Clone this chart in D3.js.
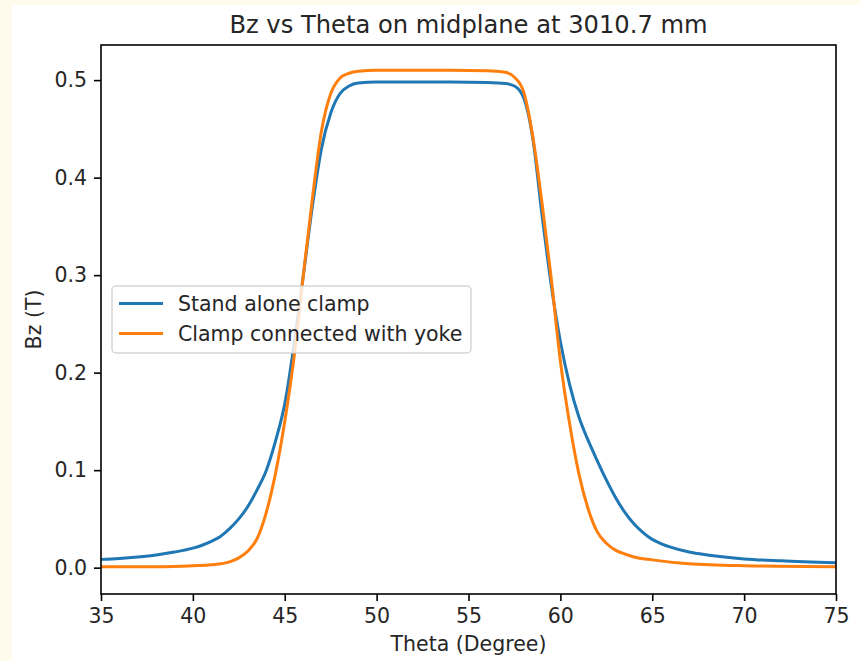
<!DOCTYPE html>
<html>
<head>
<meta charset="utf-8">
<script src="https://cdn.jsdelivr.net/npm/d3@7"></script>
<style>
  html, body { margin: 0; padding: 0; background: #fefaec; }
  svg { display: block; }
  text { font-family: "DejaVu Sans", sans-serif; fill: #262626; }
</style>
</head>
<body>
<div id="chart"></div>
<script>
// data
var theta_blue = [35, 36, 37, 38, 39, 40, 40.5, 41, 41.5, 42, 42.5, 43, 43.5, 44, 44.5, 45, 45.5, 46, 46.5, 47, 47.5, 48, 48.5, 49, 50, 52, 54, 56, 57, 57.5, 58, 58.5, 59, 59.5, 60, 60.5, 61, 61.5, 62, 62.5, 63, 63.5, 64, 64.5, 65, 65.5, 66, 67, 68, 70, 72, 75];
var bz_blue = [0.0085, 0.0095, 0.011, 0.013, 0.016, 0.020, 0.023, 0.027, 0.032, 0.040, 0.050, 0.063, 0.080, 0.100, 0.130, 0.168, 0.228, 0.298, 0.370, 0.430, 0.466, 0.486, 0.494, 0.497, 0.498, 0.498, 0.498, 0.4975, 0.4965, 0.494, 0.482, 0.440, 0.362, 0.290, 0.232, 0.188, 0.155, 0.131, 0.110, 0.090, 0.072, 0.057, 0.045, 0.036, 0.029, 0.0245, 0.021, 0.016, 0.013, 0.009, 0.007, 0.005];

var theta_orange = [35, 38, 40, 41, 42, 42.5, 43, 43.5, 44, 44.5, 45, 45.5, 46, 46.5, 47, 47.5, 48, 48.5, 49, 50, 54, 56, 57, 57.5, 58, 58.5, 59, 59.5, 60, 60.5, 61, 61.5, 62, 62.5, 63, 63.5, 64, 65, 67, 70, 75];
var bz_orange = [0.001, 0.001, 0.002, 0.003, 0.006, 0.010, 0.017, 0.030, 0.057, 0.097, 0.150, 0.215, 0.298, 0.378, 0.448, 0.486, 0.502, 0.507, 0.509, 0.510, 0.510, 0.5095, 0.508, 0.503, 0.488, 0.442, 0.374, 0.297, 0.212, 0.148, 0.097, 0.061, 0.037, 0.025, 0.018, 0.014, 0.011, 0.008, 0.004, 0.002, 0.001];

var series_names = ["Stand alone clamp", "Clamp connected with yoke"];
var x_ticks = [35, 40, 45, 50, 55, 60, 65, 70, 75];
var y_ticks = [0.0, 0.1, 0.2, 0.3, 0.4, 0.5];

var W = 860, H = 661;
var margin = {top: 45, right: 24, bottom: 67, left: 101},
    width = W - margin.left - margin.right,
    height = H - margin.top - margin.bottom;

var colors = ["#1f77b4", "#ff7f0e"];

var svg = d3.select("#chart").append("svg")
    .attr("width", W)
    .attr("height", H);

// white panel on the cream page
svg.append("rect")
    .attr("x", 12).attr("y", 5)
    .attr("width", W - 12).attr("height", H - 5)
    .attr("fill", "#ffffff");

var g = svg.append("g")
    .attr("transform", "translate(" + margin.left + "," + margin.top + ")");

var x = d3.scaleLinear().domain([35, 75]).range([0, width]);
var y = d3.scaleLinear().domain([-0.027, 0.536]).range([height, 0]);

var series = [
    theta_blue.map(function(t, i) { return [t, bz_blue[i]]; }),
    theta_orange.map(function(t, i) { return [t, bz_orange[i]]; })
];

var line = d3.line()
    .x(function(d) { return x(d[0]); })
    .y(function(d) { return y(d[1]); })
    .curve(d3.curveMonotoneX);

g.append("defs").append("clipPath").attr("id", "clip")
  .append("rect").attr("width", width).attr("height", height);

g.append("g").attr("clip-path", "url(#clip)")
  .selectAll("path")
  .data(series)
  .enter().append("path")
    .attr("d", line)
    .attr("fill", "none")
    .attr("stroke", function(d, i) { return colors[i]; })
    .attr("stroke-width", 3)
    .attr("stroke-linejoin", "round")
    .attr("stroke-linecap", "square");

// axes
var xAxis = g.append("g")
    .attr("transform", "translate(0," + height + ")")
    .call(d3.axisBottom(x).tickValues(x_ticks).tickSize(7).tickPadding(6).tickFormat(d3.format("d")));
var yAxis = g.append("g")
    .call(d3.axisLeft(y).tickValues(y_ticks).tickSize(7).tickPadding(7).tickFormat(d3.format(".1f")));

[xAxis, yAxis].forEach(function(a) {
    a.select(".domain").remove();
    a.selectAll(".tick line").attr("stroke", "#000").attr("stroke-width", 1.6);
    a.selectAll(".tick text").style("font-size", "20.5px").attr("fill", "#262626");
});
xAxis.selectAll(".tick text").attr("dy", "0.76em");

// frame
g.append("rect")
    .attr("width", width).attr("height", height)
    .attr("fill", "none")
    .attr("stroke", "#000")
    .attr("stroke-width", 1.6);

// titles
svg.append("text")
    .attr("x", margin.left + width / 2)
    .attr("y", 33)
    .attr("text-anchor", "middle")
    .style("font-size", "24.2px")
    .text("Bz vs Theta on midplane at 3010.7 mm");

svg.append("text")
    .attr("x", margin.left + width / 2)
    .attr("y", 651)
    .attr("text-anchor", "middle")
    .style("font-size", "20.5px")
    .text("Theta (Degree)");

svg.append("text")
    .attr("transform", "translate(41," + (margin.top + height / 2) + ") rotate(-90)")
    .attr("text-anchor", "middle")
    .style("font-size", "20.5px")
    .text("Bz (T)");

// legend
var legend = g.append("g")
    .attr("transform", "translate(" + (112 - margin.left) + "," + (286 - margin.top) + ")");

legend.append("rect")
    .attr("width", 359).attr("height", 67)
    .attr("rx", 4).attr("ry", 4)
    .attr("fill", "#ffffff").attr("fill-opacity", 0.8)
    .attr("stroke", "#cccccc").attr("stroke-opacity", 0.8)
    .attr("stroke-width", 1.5);

var item = legend.selectAll(".item")
    .data(series_names)
    .enter().append("g")
    .attr("class", "item")
    .attr("transform", function(d, i) { return "translate(0," + (17.5 + i * 30) + ")"; });

item.append("line")
    .attr("x1", 7).attr("x2", 51)
    .attr("stroke", function(d, i) { return colors[i]; })
    .attr("stroke-width", 3);

item.append("text")
    .attr("x", 66)
    .attr("dy", "0.35em")
    .style("font-size", "20.5px")
    .text(function(d) { return d; });
</script>
</body>
</html>
